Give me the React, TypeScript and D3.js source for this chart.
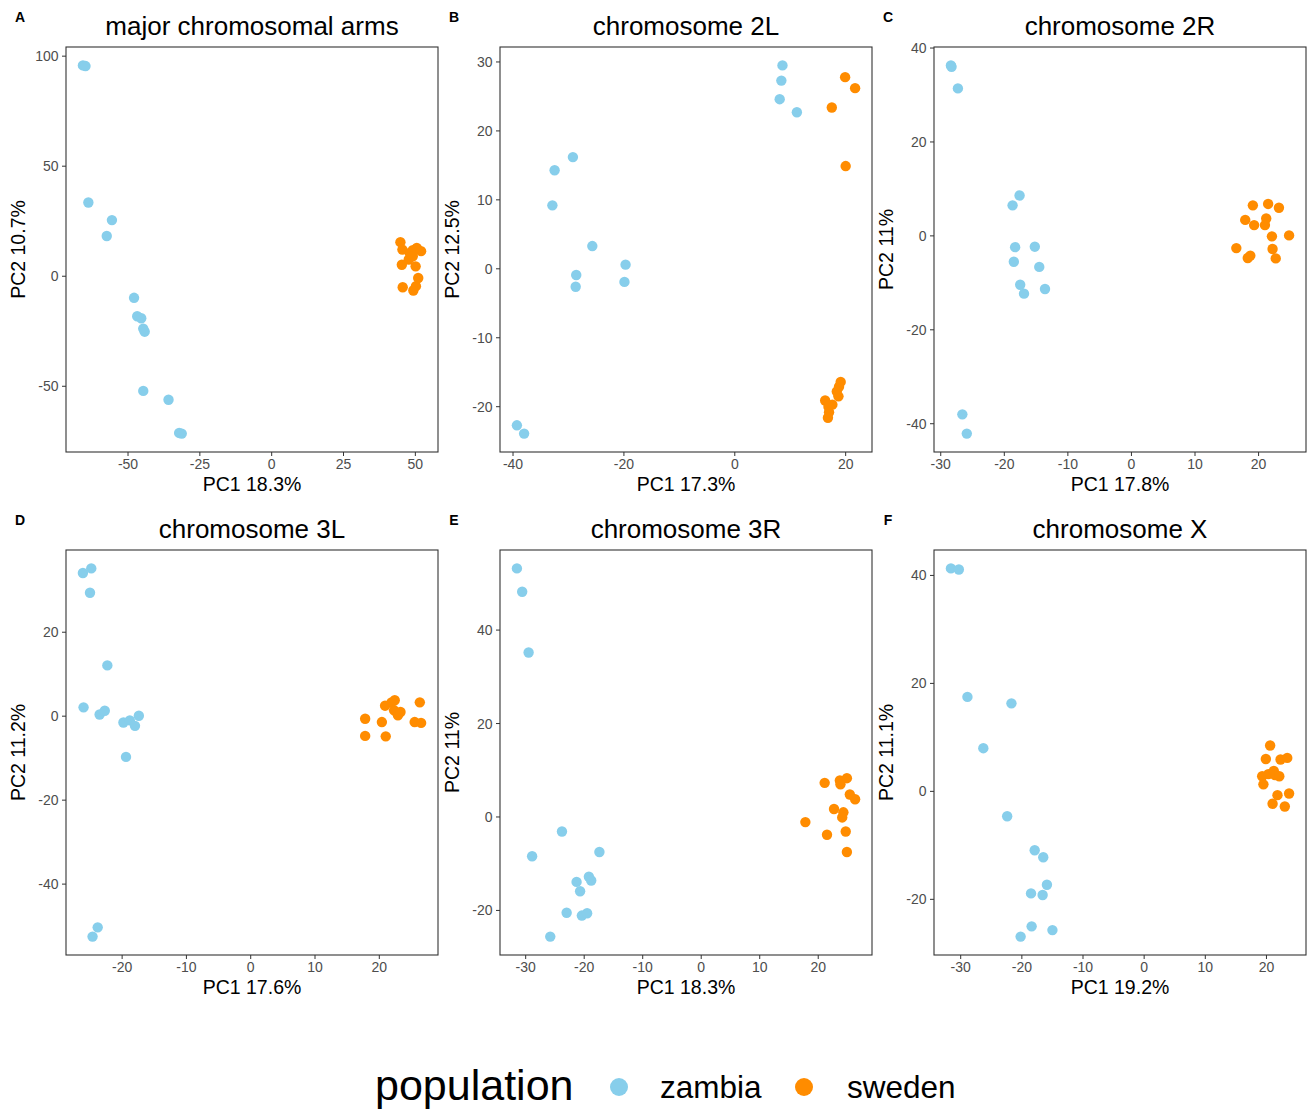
import * as d3 from 'd3'

// PC1/PC2 scores, one pair per fly line
const armsZambia = [[-65.7, 95.8], [-64.8, 95.5], [-63.8, 33.5], [-55.6, 25.5], [-57.4, 18.3], [-47.9, -9.8], [-46.8, -18.2], [-45.4, -19.1], [-44.7, -23.8], [-44.2, -25.2], [-44.7, -52.1], [-35.9, -56.1], [-32.2, -71.2], [-31.3, -71.5]]
const armsSweden = [[44.8, 15.5], [45.5, 12.1], [48.1, 10.6], [49.1, 11.8], [50.5, 12.9], [52.0, 11.4], [47.7, 7.6], [49.1, 9.1], [45.3, 5.2], [50.1, 4.5], [51.0, -0.8], [45.6, -5.0], [50.2, -4.5], [49.3, -6.5]]

const chr2LZambia = [[8.6, 29.5], [8.4, 27.3], [8.1, 24.6], [11.2, 22.7], [-29.2, 16.2], [-32.5, 14.3], [-32.9, 9.2], [-25.7, 3.3], [-28.6, -0.9], [-28.7, -2.6], [-19.7, 0.6], [-19.9, -1.9], [-39.3, -22.7], [-38.0, -23.9]]
const chr2LSweden = [[19.9, 27.8], [21.7, 26.2], [17.5, 23.4], [20.0, 14.9], [19.1, -16.4], [18.8, -17.1], [18.4, -17.8], [18.7, -18.5], [16.3, -19.1], [17.6, -19.7], [16.9, -20.0], [17.0, -20.8], [16.8, -21.6]]

const chr2RZambia = [[-28.4, 36.3], [-28.3, 36.0], [-27.3, 31.4], [-17.6, 8.6], [-18.7, 6.5], [-18.3, -2.4], [-15.2, -2.3], [-18.5, -5.5], [-14.5, -6.6], [-17.5, -10.4], [-16.9, -12.3], [-13.6, -11.3], [-26.6, -38.0], [-25.9, -42.1]]
const chr2RSweden = [[19.1, 6.5], [21.5, 6.8], [23.2, 6.0], [17.9, 3.4], [19.3, 2.3], [21.2, 3.7], [21.0, 2.3], [22.1, -0.1], [24.8, 0.1], [16.5, -2.6], [22.2, -2.8], [18.7, -4.2], [18.3, -4.7], [22.7, -4.8]]

const chr3LZambia = [[-26.1, 34.1], [-24.8, 35.2], [-25.0, 29.4], [-22.3, 12.1], [-26.0, 2.1], [-23.5, 0.4], [-22.7, 1.3], [-19.8, -1.5], [-18.8, -1.0], [-18.0, -2.3], [-17.4, 0.1], [-19.4, -9.7], [-23.8, -50.3], [-24.6, -52.5]]
const chr3LSweden = [[17.8, -0.6], [17.8, -4.7], [20.4, -1.4], [21.0, -4.8], [20.9, 2.5], [21.9, 3.3], [22.4, 3.8], [22.3, 1.4], [22.9, 0.2], [23.3, 1.0], [26.3, 3.3], [25.5, -1.4], [26.5, -1.6]]

const chr3RZambia = [[-31.5, 53.2], [-30.6, 48.2], [-29.5, 35.2], [-23.8, -3.1], [-28.9, -8.4], [-17.4, -7.5], [-19.2, -12.8], [-18.8, -13.6], [-21.3, -13.9], [-20.7, -15.9], [-23.0, -20.5], [-20.4, -21.1], [-19.5, -20.6], [-25.8, -25.6]]
const chr3RSweden = [[21.1, 7.3], [23.7, 7.8], [23.8, 7.0], [24.9, 8.3], [25.4, 4.8], [26.3, 3.8], [22.7, 1.7], [24.3, 1.0], [24.1, -0.1], [17.8, -1.1], [21.5, -3.8], [24.7, -3.1], [24.9, -7.5]]

const chrXZambia = [[-31.6, 41.3], [-30.3, 41.1], [-28.9, 17.5], [-21.7, 16.3], [-26.3, 8.0], [-22.4, -4.6], [-17.9, -10.9], [-16.5, -12.2], [-15.9, -17.3], [-18.5, -18.9], [-16.6, -19.2], [-18.4, -25.0], [-15.0, -25.7], [-20.2, -26.9]]
const chrXSweden = [[20.6, 8.5], [19.9, 6.0], [22.3, 5.9], [23.4, 6.2], [19.3, 2.8], [20.3, 3.2], [21.2, 3.8], [21.4, 3.0], [22.1, 2.8], [19.5, 1.3], [21.8, -0.7], [23.7, -0.4], [21.0, -2.3], [23.0, -2.8]]

const panelTags = ['A', 'B', 'C', 'D', 'E', 'F']
const panelTitles = ['major chromosomal arms', 'chromosome 2L', 'chromosome 2R', 'chromosome 3L', 'chromosome 3R', 'chromosome X']
const pc1Labels = ['PC1 18.3%', 'PC1 17.3%', 'PC1 17.8%', 'PC1 17.6%', 'PC1 18.3%', 'PC1 19.2%']
const pc2Labels = ['PC2 10.7%', 'PC2 12.5%', 'PC2 11%', 'PC2 11.2%', 'PC2 11%', 'PC2 11.1%']
const xTicks = [[-50, -25, 0, 25, 50], [-40, -20, 0, 20], [-30, -20, -10, 0, 10, 20], [-20, -10, 0, 10, 20], [-30, -20, -10, 0, 10, 20], [-30, -20, -10, 0, 10, 20]]
const yTicks = [[-50, 0, 50, 100], [-20, -10, 0, 10, 20, 30], [-40, -20, 0, 20, 40], [-40, -20, 0, 20], [-20, 0, 20, 40], [-20, 0, 20, 40]]

const populations = ['zambia', 'sweden']
const popColors = ['#87CEEB', '#FF8C00']

const zambiaSets = [armsZambia, chr2LZambia, chr2RZambia, chr3LZambia, chr3RZambia, chrXZambia]
const swedenSets = [armsSweden, chr2LSweden, chr2RSweden, chr3LSweden, chr3RSweden, chrXSweden]

const W = 1311, H = 1109
const FONT = '"Liberation Sans", Arial, Helvetica, sans-serif'
const colL = [66, 500, 934], colR = [438, 872, 1306]
const rowT = [47, 550], rowB = [452, 955]

// ggplot-style continuous range: data extent padded by 5% each side
const padded = (vals: number[]) => {
  const [lo, hi] = d3.extent(vals) as [number, number]
  const p = (hi - lo) * 0.05
  return [lo - p, hi + p]
}

function Panel({ i }: { i: number }) {
  const col = i % 3, row = Math.floor(i / 3)
  const l = colL[col], r = colR[col], t = rowT[row], b = rowB[row]
  const all = [...zambiaSets[i], ...swedenSets[i]]
  const x = d3.scaleLinear().domain(padded(all.map(d => d[0]))).range([l, r])
  const y = d3.scaleLinear().domain(padded(all.map(d => d[1]))).range([b, t])
  const cx = (l + r) / 2, cy = (t + b) / 2
  const tagX = col === 0 ? 20 : l - 46
  return (
    <g>
      <text x={tagX} y={t - 25} fontSize={14} fontWeight="bold" textAnchor="middle">{panelTags[i]}</text>
      <text x={cx} y={t - 12} fontSize={26} textAnchor="middle">{panelTitles[i]}</text>
      {[zambiaSets[i], swedenSets[i]].map((set, k) =>
        set.map((d, j) => <circle key={k + '-' + j} cx={x(d[0])} cy={y(d[1])} r={5.2} fill={popColors[k]} />)
      )}
      <rect x={l} y={t} width={r - l} height={b - t} fill="none" stroke="#333333" strokeWidth={1.1} />
      {xTicks[i].map(v => (
        <g key={'x' + v}>
          <line x1={x(v)} x2={x(v)} y1={b} y2={b + 4} stroke="#333333" strokeWidth={1} />
          <text x={x(v)} y={b + 17} fontSize={14} fill="#4D4D4D" textAnchor="middle">{v}</text>
        </g>
      ))}
      {yTicks[i].map(v => (
        <g key={'y' + v}>
          <line x1={l - 4} x2={l} y1={y(v)} y2={y(v)} stroke="#333333" strokeWidth={1} />
          <text x={l - 7.5} y={y(v) + 5} fontSize={14} fill="#4D4D4D" textAnchor="end">{v}</text>
        </g>
      ))}
      <text x={cx} y={b + 39} fontSize={19.5} textAnchor="middle">{pc1Labels[i]}</text>
      <text transform={`translate(${l - 41},${cy}) rotate(-90)`} fontSize={19.5} textAnchor="middle">{pc2Labels[i]}</text>
    </g>
  )
}

export default function App() {
  return (
    <div>
      <style>{'body{margin:0;background:#fff}'}</style>
      <svg width={W} height={H} style={{ display: 'block', fontFamily: FONT }}>
        <rect width={W} height={H} fill="#fff" />
        {panelTags.map((_, i) => <Panel key={i} i={i} />)}
        <g>
          <text x={375} y={1100} fontSize={43}>population</text>
          {populations.map((p, k) => (
            <g key={p}>
              <circle cx={619 + k * 185} cy={1087} r={9} fill={popColors[k]} />
              <text x={660 + k * 187} y={1098} fontSize={31.5}>{p}</text>
            </g>
          ))}
        </g>
      </svg>
    </div>
  )
}
